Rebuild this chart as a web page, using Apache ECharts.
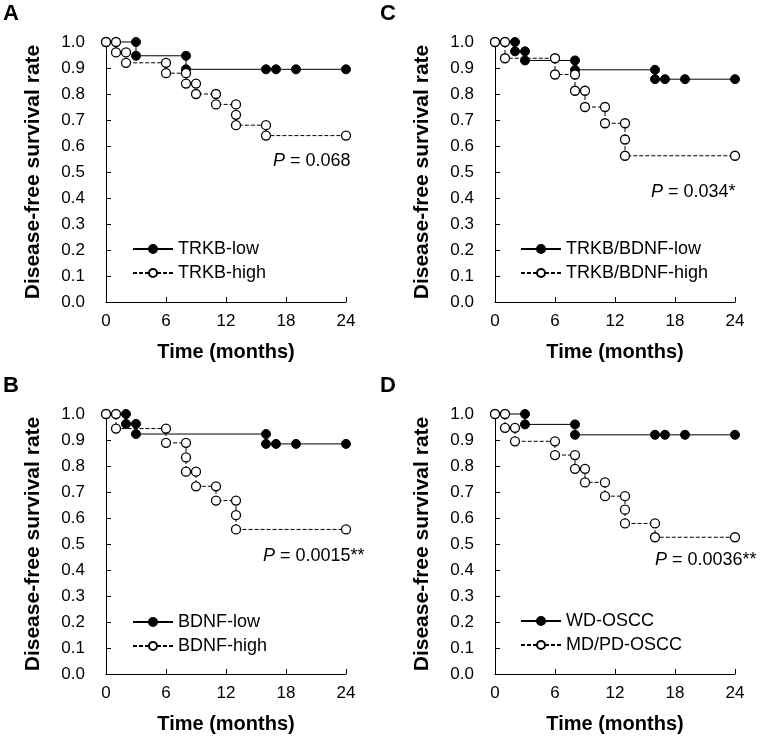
<!DOCTYPE html>
<html>
<head>
<meta charset="utf-8">
<script src="https://cdn.jsdelivr.net/npm/echarts@6/dist/echarts.min.js"></script>
<style>html,body{margin:0;padding:0;background:#fff}#c{width:760px;height:738px}</style>
</head>
<body>
<div id="c"></div>
<script>
// ---- Data ----
const xTicks = [0, 6, 12, 18, 24];
const panelLetters = ['A', 'B', 'C', 'D'];
const seriesNames = [
  ['TRKB-low', 'TRKB-high'],
  ['BDNF-low', 'BDNF-high'],
  ['TRKB/BDNF-low', 'TRKB/BDNF-high'],
  ['WD-OSCC', 'MD/PD-OSCC']
];
const pValues = ['0.068', '0.0015**', '0.034*', '0.0036**'];

// Panel A
const aLowX  = [0, 3, 3, 8, 8, 16, 17, 19, 24];
const aLowY  = [1, 1, 0.947, 0.947, 0.895, 0.895, 0.895, 0.895, 0.895];
const aHighX = [0, 1, 1, 2, 2, 6, 6, 8, 8, 9, 9, 11, 11, 13, 13, 13, 16, 16, 24];
const aHighY = [1, 1, 0.96, 0.96, 0.92, 0.92, 0.88, 0.88, 0.84, 0.84, 0.80, 0.80, 0.76, 0.76, 0.72, 0.68, 0.68, 0.64, 0.64];

// Panel B
const bLowX  = [0, 2, 2, 3, 3, 16, 16, 17, 19, 24];
const bLowY  = [1, 1, 0.962, 0.962, 0.923, 0.923, 0.885, 0.885, 0.885, 0.885];
const bHighX = [0, 1, 1, 6, 6, 8, 8, 8, 9, 9, 11, 11, 13, 13, 13, 24];
const bHighY = [1, 1, 0.944, 0.944, 0.889, 0.889, 0.833, 0.778, 0.778, 0.722, 0.722, 0.667, 0.667, 0.611, 0.556, 0.556];

// Panel C
const cLowX  = [0, 2, 2, 3, 3, 8, 8, 16, 16, 17, 19, 24];
const cLowY  = [1, 1, 0.964, 0.964, 0.929, 0.929, 0.893, 0.893, 0.857, 0.857, 0.857, 0.857];
const cHighX = [0, 1, 1, 6, 6, 8, 8, 9, 9, 11, 11, 13, 13, 13, 24];
const cHighY = [1, 1, 0.9375, 0.9375, 0.875, 0.875, 0.8125, 0.8125, 0.75, 0.75, 0.6875, 0.6875, 0.625, 0.5625, 0.5625];

// Panel D
const dLowX  = [0, 3, 3, 8, 8, 16, 17, 19, 24];
const dLowY  = [1, 1, 0.96, 0.96, 0.92, 0.92, 0.92, 0.92, 0.92];
const dHighX = [0, 1, 1, 2, 2, 6, 6, 8, 8, 9, 9, 11, 11, 13, 13, 13, 16, 16, 24];
const dHighY = [1, 1, 0.947, 0.947, 0.895, 0.895, 0.842, 0.842, 0.789, 0.789, 0.737, 0.737, 0.684, 0.684, 0.632, 0.579, 0.579, 0.526, 0.526];

const panelData = [
  [aLowX, aLowY, aHighX, aHighY],
  [bLowX, bLowY, bHighX, bHighY],
  [cLowX, cLowY, cHighX, cHighY],
  [dLowX, dLowY, dHighX, dHighY]
];

// ---- Layout ----
const FONT = '"Liberation Sans", Arial, sans-serif';
const grids = [
  {left: 106, top: 42, width: 240, height: 260},
  {left: 106, top: 414, width: 240, height: 260},
  {left: 495, top: 42, width: 240, height: 260},
  {left: 495, top: 414, width: 240, height: 260}
];
const legendPos = [
  {left: 132, top: 240},
  {left: 132, top: 613},
  {left: 520, top: 240},
  {left: 520, top: 612}
];
const pPos = [
  {left: 273, top: 152},
  {left: 263, top: 547},
  {left: 651, top: 183},
  {left: 655, top: 551}
];
const letterPos = [
  {left: 3, top: 3},
  {left: 3, top: 375},
  {left: 380, top: 3},
  {left: 380, top: 375}
];

const zip = (xs, ys) => xs.map((x, i) => [x, ys[i]]);

const option = {
  backgroundColor: '#fff',
  animation: false,
  textStyle: {fontFamily: FONT},
  grid: grids.map(g => Object.assign({containLabel: false}, g)),
  xAxis: grids.map((g, i) => ({
    type: 'value', gridIndex: i, min: 0, max: 24, interval: 6,
    name: 'Time (months)', nameLocation: 'middle', nameGap: 40,
    nameTextStyle: {fontSize: 20, fontWeight: 'bold', color: '#000', fontFamily: FONT},
    axisLine: {lineStyle: {color: '#000', width: 1}},
    axisTick: {inside: true, length: 5, lineStyle: {color: '#000'}},
    axisLabel: {fontSize: 17, color: '#000', margin: 11, fontFamily: FONT,
      formatter: v => xTicks.indexOf(v) >= 0 ? String(v) : ''},
    splitLine: {show: false}
  })),
  yAxis: grids.map((g, i) => ({
    type: 'value', gridIndex: i, min: 0, max: 1, interval: 0.1,
    name: 'Disease-free survival rate', nameLocation: 'middle', nameGap: 62,
    nameTextStyle: {fontSize: 21, fontWeight: 'bold', color: '#000', fontFamily: FONT},
    axisLine: {show: true, lineStyle: {color: '#000', width: 1}},
    axisTick: {show: true, inside: true, length: 5, lineStyle: {color: '#000'}},
    axisLabel: {fontSize: 17, color: '#000', margin: 21, fontFamily: FONT,
      formatter: v => v.toFixed(1)},
    splitLine: {show: false}
  })),
  legend: panelData.map((d, i) => ({
    data: seriesNames[i],
    orient: 'vertical',
    left: legendPos[i].left, top: legendPos[i].top,
    itemWidth: 40, itemHeight: 10, itemGap: 6,
    padding: 0,
    textStyle: {fontSize: 18, color: '#000', fontFamily: FONT},
    selectedMode: false
  })),
  title: [].concat(
    pValues.map((p, i) => ({
      text: '{i|P} = ' + p,
      left: pPos[i].left, top: pPos[i].top, padding: 0,
      textStyle: {fontSize: 18, fontWeight: 'normal', color: '#000', fontFamily: FONT,
        rich: {i: {fontStyle: 'italic', fontSize: 18, color: '#000', fontFamily: FONT}}}
    })),
    panelLetters.map((L, i) => ({
      text: L, left: letterPos[i].left, top: letterPos[i].top, padding: 0,
      textStyle: {fontSize: 22, fontWeight: 'bold', color: '#000', fontFamily: FONT}
    }))
  ),
  series: []
};

panelData.forEach((d, i) => {
  option.series.push({
    name: seriesNames[i][0], type: 'line', xAxisIndex: i, yAxisIndex: i,
    data: zip(d[0], d[1]), clip: false, z: 2,
    symbol: 'circle', symbolSize: 9, showAllSymbol: true,
    lineStyle: {color: '#000', width: 1, type: 'solid'},
    itemStyle: {color: '#000', borderColor: '#000', borderWidth: 1}
  });
  option.series.push({
    name: seriesNames[i][1], type: 'line', xAxisIndex: i, yAxisIndex: i,
    data: zip(d[2], d[3]), clip: false, z: 3,
    symbol: 'circle', symbolSize: 9, showAllSymbol: true,
    lineStyle: {color: '#000', width: 1, type: [4, 2]},
    itemStyle: {color: '#fff', borderColor: '#000', borderWidth: 1.3}
  });
});

const chart = echarts.init(document.getElementById('c'), null, {renderer: 'canvas'});
chart.setOption(option);
</script>
</body>
</html>
